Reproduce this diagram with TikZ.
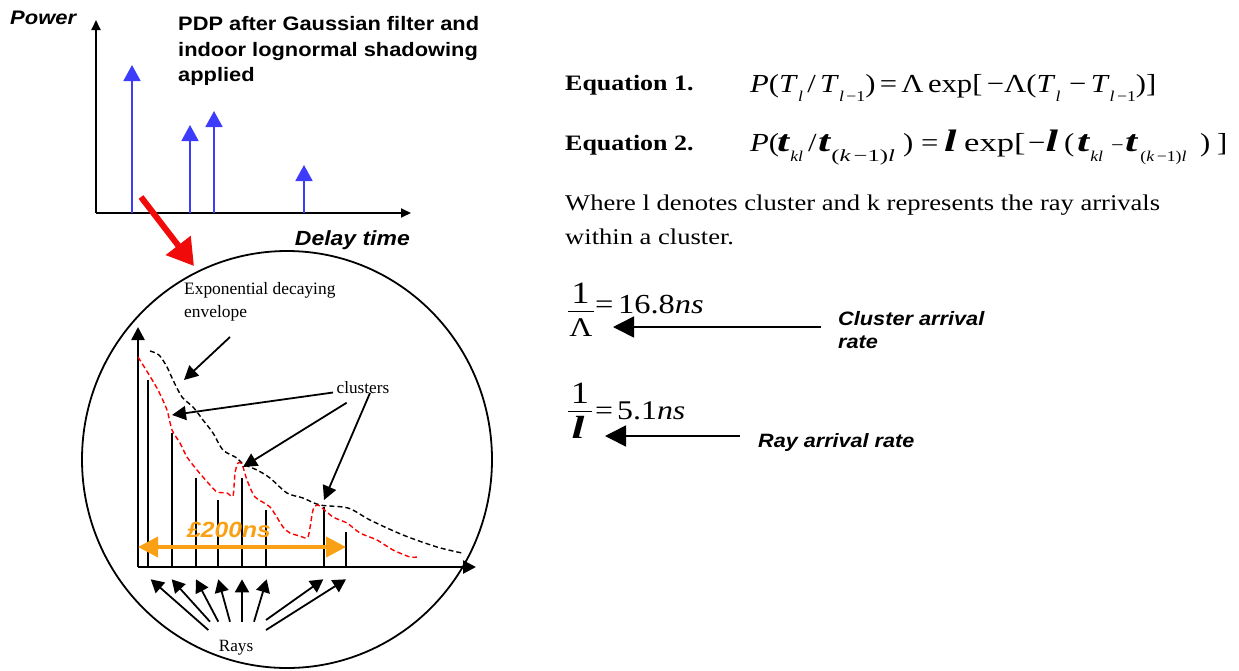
\documentclass[tikz,border=0pt]{standalone}
\usepackage{fontspec}
\setmainfont{Liberation Serif}
\setsansfont{Liberation Sans}
\newfontfamily\rserif[FakeStretch=1.18]{Liberation Serif}
\newfontfamily\tserif[FakeStretch=1.45]{Liberation Serif}
\newfontfamily\xserif[FakeStretch=1.33]{Liberation Serif}
\newfontfamily\rsans[FakeStretch=1.12]{Liberation Sans}
\usetikzlibrary{arrows.meta}
\definecolor{pdpblue}{RGB}{60,60,250}
\definecolor{arrred}{RGB}{240,10,10}
\definecolor{orng}{RGB}{250,160,20}
\newcommand{\lo}[1]{\raisebox{-0.35em}{\fontsize{15}{15}\selectfont #1}}
\newcommand{\lob}[1]{\raisebox{-0.42em}{\fontsize{15}{15}\selectfont #1}}
\newcommand{\lok}{\raisebox{-0.42em}{\tserif\fontsize{17}{17}\selectfont (\textit{k}\,−1)\textit{l}}}
\newcommand{\lokk}{\raisebox{-0.42em}{\fontsize{15}{15}\selectfont (\textit{k}\,−1)\textit{l}}}
\newcommand{\bt}{{\tserif\fontsize{30}{30}\selectfont\textbf{\textit{t}}}}
\newcommand{\bl}{{\tserif\fontsize{31}{31}\selectfont\textbf{\textit{l}}}}
\newcommand{\pc}[2]{\makebox[#1pt][l]{#2}}
\tikzset{
  axis/.style={line width=1.8pt,-{Triangle[length=10pt,width=9pt]}},
  pdparrow/.style={pdpblue,line width=1.8pt,-{Triangle[length=16pt,width=17pt]}},
  stem/.style={line width=2.2pt},
  iaxis/.style={line width=2.6pt,-{Triangle[length=13pt,width=13pt]}},
  ptr/.style={line width=1.8pt,-{Triangle[length=14pt,width=14pt]}},
  ray/.style={line width=1.8pt,-{Triangle[length=13pt,width=14pt]}},
  bigptr/.style={line width=1.6pt,-{Triangle[length=21pt,width=21pt]}},
  env/.style={dash pattern=on 5pt off 3pt,line width=1.4pt},
  lab/.style={inner sep=0pt},
}
\begin{document}
\begin{tikzpicture}[x=1pt,y=-1pt]
\useasboundingbox (0,0) rectangle (1239,670);
% ---------- top PDP ----------
\coordinate (o1) at (96,213);
\coordinate (ytip1) at (96,20);
\coordinate (xtip1) at (411,213);
\draw[axis] (o1) -- (ytip1);
\draw[axis] (o1) -- (xtip1);
\coordinate (b1) at (132,213); \coordinate (b1t) at (132,65);
\coordinate (b2) at (190,213); \coordinate (b2t) at (190,125);
\coordinate (b3) at (214,213); \coordinate (b3t) at (214,111);
\coordinate (b4) at (304,213); \coordinate (b4t) at (304,165);
\draw[pdparrow] (b1) -- (b1t);
\draw[pdparrow] (b2) -- (b2t);
\draw[pdparrow] (b3) -- (b3t);
\draw[pdparrow] (b4) -- (b4t);
\node[lab,anchor=base west,font=\rsans\fontsize{19.6}{20}\selectfont\bfseries\itshape] (power) at (10,24.5) {Power};
\node[lab,anchor=base west,align=left,font=\rsans\fontsize{19.5}{25.5}\selectfont\bfseries] (pdptitle) at (178,81.5) {PDP after Gaussian filter and\\indoor lognormal shadowing\\applied};
\node[lab,anchor=base east,font=\rsans\fontsize{20.5}{22}\selectfont\bfseries\itshape] (delay) at (410,245) {Delay time};
% red arrow
\coordinate (rs) at (141,197);
\coordinate (re) at (194,266);
\draw[arrred,line width=6pt,-{Triangle[length=26pt,width=30pt]}] (rs) -- (re);
% ---------- circle ----------
\draw[line width=1.8pt] (287,459.5) ellipse [x radius=205pt, y radius=208.5pt];
\coordinate (o2) at (138,567);
\coordinate (ytip2) at (138,327);
\coordinate (xtip2) at (476,567);
\draw[iaxis] (o2) -- (ytip2);
\draw[iaxis] (o2) -- (xtip2);
\foreach \x/\t [count=\i] in {148/380,172/433,196/478,218/500,242/478,266/510,324/507,346/532}{
  \coordinate (s\i) at (\x,567);
  \coordinate (s\i t) at (\x,\t);
  \draw[stem] (s\i) -- (s\i t);
}
% envelopes
\draw[env,black] plot[smooth,tension=0.5] coordinates {(150,351) (159,355) (167,367) (173,380) (182,397) (193,407) (203,420) (213,433) (223,450) (237,458) (243,464) (257,470) (270,478) (287,493) (303,498) (320,505) (348,508) (370,520) (403,535) (437,547) (462,553)};
\draw[env,red] plot[smooth,tension=0.4] coordinates {(138,357) (148,373) (158,390) (167,410) (172,430) (180,443) (187,457) (197,470) (210,485) (217,492) (227,493) (233,496) (235,473) (238,463) (242,464) (247,480) (255,497) (270,507) (283,527) (290,533) (300,536) (308,537) (313,510) (318,505) (333,517) (347,523) (360,533) (377,540) (393,550) (410,557) (417,557)};
% labels in circle
\node[lab,anchor=base west,align=left,font=\fontsize{17.4}{22.3}\selectfont] (envlab) at (184,317) {Exponential decaying\\envelope};
\coordinate (envs) at (230,337);
\coordinate (envt) at (184,380);
\draw[ptr] (envs) -- (envt);
\node[lab,anchor=base west,font=\fontsize{17.2}{20}\selectfont] (cl) at (336.5,393) {clusters};
\coordinate (c1t) at (172,415);
\coordinate (c2t) at (243,467);
\coordinate (c3t) at (324,500);
\draw[ptr] (333,392.5) -- (c1t);
\draw[ptr] (346.7,402.7) -- (c2t);
\draw[ptr] (370,393) -- (c3t);
% orange span
\coordinate (ol) at (138,547);
\coordinate (or) at (346,547);
\draw[orng,line width=4pt,{Triangle[length=20pt,width=20pt]}-{Triangle[length=20pt,width=20pt]}] (ol) -- (or);
\node[lab,text=orng,font=\rsans\fontsize{22}{24}\selectfont\bfseries\itshape] (span) at (229,530) {£200ns};
% rays
\node[lab,font=\fontsize{17.2}{20}\selectfont] (rays) at (236,648) {Rays};
\foreach \a/\b/\c/\d in {208.3/630/150.7/579.3, 210/621.7/171.7/579.3, 218.3/621.7/196/579.3, 230/621.7/218.3/579.3, 242/621.7/242/579.3, 254/621.7/266.7/579.3, 266/620/323.3/579.3, 266/630/346/579.3}{
  \draw[ray] (\a,\b) -- (\c,\d);
}
% ---------- right side ----------
\node[lab,anchor=base west,font=\rserif\fontsize{22}{24}\selectfont\bfseries] (e1lab) at (565,90) {Equation 1.};
\node[lab,anchor=base west,font=\rserif\fontsize{22}{24}\selectfont\bfseries] (e2lab) at (565,150) {Equation 2.};
\node[lab,anchor=base west,font=\rserif\fontsize{26}{28}\selectfont] (eq1) at (750,92) {\textit{P}(\textit{T}\lo{\textit{l}}\,/\,\textit{T}\lo{\textit{l}\,−1})\,=\,Λ\,exp[\,−Λ(\textit{T}\lo{\textit{l}}\,\,−\,\textit{T}\lo{\textit{l}\,−1})]};
\node[lab,anchor=base west,font=\rserif\fontsize{26}{28}\selectfont] (eq2) at (750,151) {\pc{27}{\textit{P}(}\pc{31}{\bt\lob{\textit{kl}}}\pc{10}{/}\pc{85}{\bt\lok}\pc{18}{)}\pc{23}{=}\pc{20}{\bl}\pc{64}{\xserif exp[}\pc{36}{−\bl}\pc{13}{(}\pc{34}{\bt\lob{\textit{kl}}}\pc{14}{{\fontsize{19}{19}\selectfont −}}\pc{75}{\bt\hspace{2pt}\lokk}\pc{17}{)}]};
\node[lab,anchor=base west,align=left,font=\rserif\fontsize{22.5}{34}\selectfont] (where) at (565,244) {Where l denotes cluster and k represents the ray arrivals\\within a cluster.};
% fractions
\node[lab,anchor=base,font=\rserif\fontsize{31}{32}\selectfont] (n1) at (580.5,303) {1};
\coordinate (f1l) at (568,311.5);
\coordinate (f1r) at (594,311.5);
\draw[line width=1.3pt] (f1l) -- (f1r);
\node[lab,anchor=base,font=\rserif\fontsize{27}{28}\selectfont] (d1) at (581,336) {Λ};
\node[lab,anchor=base west,font=\rserif\fontsize{27.5}{28}\selectfont] (v1) at (595,313) {=\,16.8\textit{ns}};
\node[lab,anchor=base,font=\rserif\fontsize{31}{32}\selectfont] (n2) at (580,403) {1};
\coordinate (f2l) at (568,411.5);
\coordinate (f2r) at (592,411.5);
\draw[line width=1.3pt] (f2l) -- (f2r);
\node[lab,anchor=base,font=\tserif\fontsize{32}{32}\selectfont] (d2) at (578,438) {\textbf{\textit{l}}};
\node[lab,anchor=base west,font=\rserif\fontsize{27}{28}\selectfont] (v2) at (595,419) {=\hspace{4pt}5.1\textit{ns}};
% rate labels
\node[lab,anchor=base west,align=left,font=\rsans\fontsize{19.4}{23}\selectfont\bfseries\itshape] (clr) at (838,348) {Cluster arrival\\rate};
\node[lab,anchor=base west,font=\rsans\fontsize{19.3}{23}\selectfont\bfseries\itshape] (rar) at (758,447) {Ray arrival rate};
\coordinate (a1s) at (821,327);
\coordinate (a2s) at (740,436);
\draw[bigptr] (a1s) -- (613,327);
\draw[bigptr] (a2s) -- (605,436);
\end{tikzpicture}
\end{document}
